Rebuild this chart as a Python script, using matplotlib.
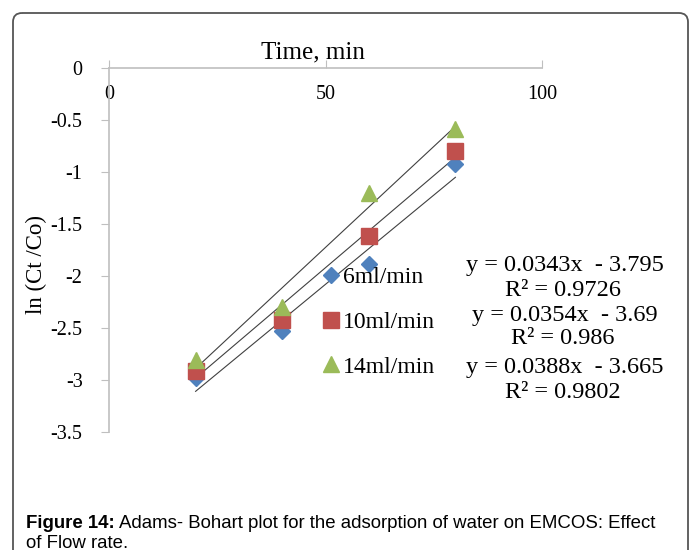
import matplotlib
matplotlib.use("Agg")
import matplotlib.pyplot as plt
from matplotlib.patches import FancyBboxPatch
import numpy as np

# data
time_min = [20, 40, 60, 80]
ln_6ml = [-2.98, -2.53, -1.88, -0.92]
ln_10ml = [-2.91, -2.42, -1.62, -0.80]
ln_14ml = [-2.81, -2.30, -1.20, -0.59]

series_labels = ["6ml/min", "10ml/min", "14ml/min"]
slopes = [0.0343, 0.0354, 0.0388]
intercepts = [-3.795, -3.69, -3.665]
r2_values = ["0.9726", "0.986", "0.9802"]

x_ticks = [0, 50, 100]
y_ticks = [0, -0.5, -1, -1.5, -2, -2.5, -3, -3.5]

colors = ["#4F81BD", "#C0504D", "#9BBB59"]
markers = ["D", "s", "^"]
msizes = [8.5, 11, 11.5]

serif = ["Liberation Serif", "DejaVu Serif"]

W, H = 695, 550
fig = plt.figure(figsize=(W / 100, H / 100), dpi=100)

# outer rounded frame (pixel coords via a hidden full-figure axes)
bg = fig.add_axes([0, 0, 1, 1])
bg.set_xlim(0, W)
bg.set_ylim(H, 0)
bg.axis("off")
bg.add_patch(FancyBboxPatch((13, 13), 675, 560, boxstyle="round,pad=0,rounding_size=9",
                            fill=False, edgecolor="#555555", linewidth=1.3))

ax = fig.add_axes([109 / W, 1 - 432 / H, (542 - 109) / W, (432 - 68) / H])
ax.patch.set_alpha(0)

all_y = [ln_6ml, ln_10ml, ln_14ml]
xs = np.array([time_min[0], time_min[-1]])
for ys, lab, c, m, ms, k, b in zip(all_y, series_labels, colors, markers, msizes, slopes, intercepts):
    ax.plot(xs, k * xs + b, color="#404040", linewidth=0.8, zorder=2)
    ax.plot(time_min, ys, linestyle="none", marker=m, markersize=ms, color=c,
            markeredgecolor=c, label=lab, zorder=3)

ax.set_xlim(0, 100)
ax.set_ylim(-3.5, 0)
ax.set_xticks(x_ticks)
ax.set_yticks(y_ticks)
ax.set_yticklabels(["0" if v == 0 else f"{v:g}" for v in y_ticks])

for s in ["top", "right"]:
    ax.spines[s].set_visible(False)
ax.spines["bottom"].set_position(("data", 0))
for s in ["bottom", "left"]:
    ax.spines[s].set_color("#BFBFBF")
    ax.spines[s].set_linewidth(1.2)

ax.tick_params(axis="x", direction="in", length=6, color="#BFBFBF", pad=12,
               labelsize=14.5)
ax.tick_params(axis="y", direction="out", length=6, color="#BFBFBF", pad=13,
               labelsize=14.5)
for t in ax.get_xticklabels() + ax.get_yticklabels():
    t.set_family(serif)

ax.set_xlabel("Time, min", family=serif, fontsize=18, x=0.47)
ax.xaxis.set_label_position("top")
ax.xaxis.labelpad = 7
ax.set_ylabel("ln (Ct /Co)", family=serif, fontsize=16.5)
ax.yaxis.set_label_coords(-0.142, 0.46)

leg = ax.legend(loc="upper left", bbox_to_anchor=(310 / W, 1 - 255 / H),
                bbox_transform=fig.transFigure, frameon=False,
                prop={"family": serif, "size": 17}, handlelength=0.8,
                handletextpad=0.1, labelspacing=0.98, borderpad=0)

eq_y = [266, 315, 367]
r2_y = [290, 338, 392]
for k, b, r2, ey, ry in zip(slopes, intercepts, r2_values, eq_y, r2_y):
    fig.text(565 / W, 1 - ey / H, f"y = {k:g}x  - {abs(b):g}", family=serif,
             fontsize=17.5, ha="center", va="center")
    fig.text(563 / W, 1 - ry / H, f"R² = {r2}", family=serif,
             fontsize=17.5, ha="center", va="center")

# caption with bold lead-in
cap_font = ["Liberation Sans", "DejaVu Sans"]
fig.canvas.draw()
r = fig.canvas.get_renderer()
t1 = fig.text(26 / W, 1 - 523 / H, "Figure 14:", family=cap_font, fontsize=13.4,
              weight="bold", va="center")
bb = t1.get_window_extent(r)
fig.text(bb.x1 / W + 4 / W, 1 - 523 / H, "Adams- Bohart plot for the adsorption of water on EMCOS: Effect",
         family=cap_font, fontsize=13.4, va="center")
fig.text(26 / W, 1 - 543 / H, "of Flow rate.", family=cap_font, fontsize=13.4, va="center")

fig.savefig("out.png", dpi=100)
